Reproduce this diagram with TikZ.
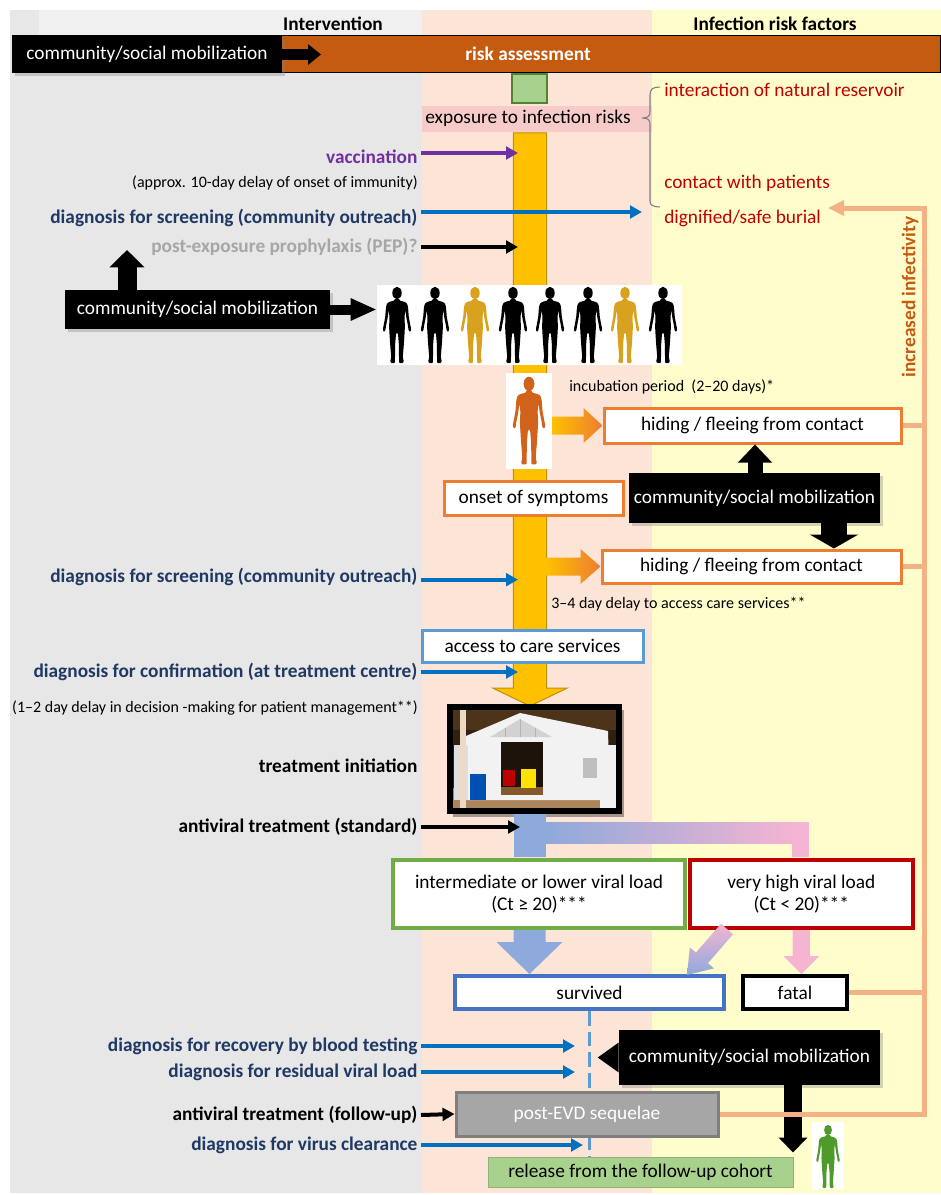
\documentclass[tikz,border=0pt]{standalone}
\usepackage{fontspec}
\setmainfont{Carlito}
\usetikzlibrary{arrows.meta,calc,shadows}
\definecolor{cpanelgray}{HTML}{E7E7E7}
\definecolor{cheadgray}{HTML}{F0F0F0}
\definecolor{cpeach}{HTML}{FCE4D6}
\definecolor{clyellow}{HTML}{FFFDCC}
\definecolor{criskorange}{HTML}{C55A11}
\definecolor{cexpink}{HTML}{F8CBCB}
\definecolor{cgold}{HTML}{FFC000}
\definecolor{cgoldd}{HTML}{BF9000}
\definecolor{clgreen}{HTML}{A9D18E}
\definecolor{cdgreen}{HTML}{548235}
\definecolor{cbgreen}{HTML}{70AD47}
\definecolor{crred}{HTML}{C00000}
\definecolor{coborder}{HTML}{ED7D31}
\definecolor{caborder}{HTML}{5B9BD5}
\definecolor{csblue}{HTML}{4472C4}
\definecolor{ctblue}{HTML}{8EA9DB}
\definecolor{ctpink}{HTML}{F4B4D2}
\definecolor{cinfl}{HTML}{F4B183}
\definecolor{carrblue}{HTML}{0070C0}
\definecolor{cvpurple}{HTML}{7030A0}
\definecolor{cnavy}{HTML}{1F3864}
\definecolor{cpepgray}{HTML}{A6A6A6}
\definecolor{cpgray}{HTML}{A6A6A6}
\definecolor{cpgrayd}{HTML}{7F7F7F}
\definecolor{cfiggold}{HTML}{D9A21E}
\definecolor{cfigorange}{HTML}{D0621B}
\definecolor{cfiggreen}{HTML}{4E9A2A}
\definecolor{cbrace}{HTML}{7F7F7F}
\newcommand\fbig{\fontsize{14.5}{16}\selectfont}
\newcommand\fsm{\fontsize{12}{13.5}\selectfont}
% box from corners (pixel coords)
\newcommand\mybox[7]{%
  \pgfmathsetmacro\mbcx{(#2+#4)/2}%
  \pgfmathsetmacro\mbcy{(#3+#5)/2}%
  \pgfmathsetmacro\mbw{(#4-#2)*0.75}%
  \pgfmathsetmacro\mbh{(#5-#3)*0.75}%
  \node[#6, minimum width=\mbw pt, minimum height=\mbh pt] (#1) at (\mbcx,\mbcy) {#7};}
% block arrow: [style]{A}{B}{shaft half}{head half}{head length}
\newcommand\barrow[6][]{%
  \coordinate (ba) at (#2); \coordinate (bb) at (#3);
  \coordinate (bc) at ($(bb)!#6!(ba)$);
  \path[#1] ($(ba)!#4!90:(bb)$) -- ($(bc)!#4!-90:(ba)$) -- ($(bc)!#5!-90:(ba)$) -- (bb)
     -- ($(bc)!#5!90:(ba)$) -- ($(bc)!#4!90:(ba)$) -- ($(ba)!#4!-90:(bb)$) -- cycle;}
\tikzset{
  pics/person/.style={code={
    \fill (0,6) ellipse [x radius=4.7, y radius=6.2];
    \fill[rounded corners=0.6pt] (2.2,11.5) -- (2.6,13.5) -- (8,15) -- (10,16.5) -- (11,20) -- (11.8,30) -- (13.3,38) -- (14.2,42.5) -- (13.1,45) -- (11.6,43.5) -- (11,39) -- (9.4,31) -- (8.3,23) -- (7.5,30) -- (7.9,40) -- (7.5,47) -- (6.8,58) -- (5.8,70) -- (6.8,74.5) -- (6,76) -- (2.2,76) -- (2,70) -- (1.9,58) -- (1,47) -- (0,45.5)
      -- (-1,47) -- (-1.9,58) -- (-2,70) -- (-2.2,76) -- (-6,76) -- (-6.8,74.5) -- (-5.8,70) -- (-6.8,58) -- (-7.5,47) -- (-7.9,40) -- (-7.5,30) -- (-8.3,23) -- (-9.4,31) -- (-11,39) -- (-11.6,43.5) -- (-13.1,45) -- (-14.2,42.5) -- (-13.3,38) -- (-11.8,30) -- (-11,20) -- (-10,16.5) -- (-8,15) -- (-2.6,13.5) -- (-2.2,11.5) -- cycle;
  }}
}
\begin{document}
\begin{tikzpicture}[x=0.75pt,y=-0.75pt,
  lbl/.style={anchor=east, font=\fbig\bfseries, inner xsep=2.5pt, inner ysep=0pt},
  smalltxt/.style={font=\fsm, inner sep=0pt},
  plaintxt/.style={font=\fbig, inner sep=0pt},
  basebox/.style={rectangle, inner sep=0pt, font=\fbig, align=center},
  obox/.style={basebox, fill=white, draw=coborder, line width=2.25pt},
  blackbox/.style={basebox, fill=black, text=white, drop shadow={shadow xshift=2pt, shadow yshift=-2pt, opacity=0.35}},
  thinarr/.style={line width=3pt, -{Triangle[length=9pt,width=9.5pt]}},
  inflline/.style={cinfl, line width=3.75pt},
]
\useasboundingbox (0,0) rectangle (941,1195);
% ---------- panels ----------
\fill[white] (0,0) rectangle (941,1195);
\fill[cpanelgray] (10,10) rectangle (422,1193);
\fill[cheadgray] (39,10) rectangle (422,36);
\fill[cpeach] (422,10) rectangle (652,1193);
\fill[clyellow] (652,10) rectangle (941,1193);
\node[font=\fbig\bfseries, inner sep=0pt] (hint) at (333,24) {Intervention};
\node[font=\fbig\bfseries, inner sep=0pt] (hrisk) at (775,24) {Infection risk factors};
% ---------- top bar ----------
\mybox{risk}{12}{36}{940}{73}{basebox, fill=criskorange, draw=black, line width=0.75pt}{}
\node[font=\fbig\bfseries, text=white, inner sep=0pt] (riskt) at (528,54) {risk assessment};
\mybox{cma}{12}{36}{282}{73}{blackbox}{community/social mobilization}
\coordinate (cmatip) at (321,54.5);
\draw[line width=8.25pt, -{Triangle[length=9.75pt,width=15pt]}] (cma.east) -- (cmatip);
% ---------- exposure ----------
\mybox{gbox}{512}{74}{547}{103}{basebox, fill=clgreen, draw=cdgreen, line width=1.5pt}{}
\fill[cexpink] (422,106) rectangle (652,132);
\node[plaintxt] (expt) at (528,118) {exposure to infection risks};
\draw[cbrace, line width=0.8pt] (660,87) .. controls (653,87) and (650,89) .. (650,95) -- (650,112)
  .. controls (650,116) and (648,118) .. (642,118) .. controls (648,118) and (650,120) .. (650,124)
  -- (650,201) .. controls (650,205) and (653,207) .. (660,207);
\node[plaintxt, text=crred, anchor=west] (rf1) at (664,90) {interaction of natural reservoir};
\node[plaintxt, text=crred, anchor=west] (rf2) at (664,183) {contact with patients};
\node[plaintxt, text=crred, anchor=west] (rf3) at (664,218) {dignified/safe burial};
% ---------- main yellow arrow ----------
\barrow[fill=cgold, draw=cgoldd, line width=0.75pt]{530,133}{530,706}{12.4pt}{28pt}{13.5pt}
\coordinate (barL) at (518,0);
\coordinate (bx) at (529.5,0);
% ---------- left labels, upper part ----------
\node[lbl, text=cvpurple] (vac) at (421,157) {vaccination};
\node[smalltxt, anchor=east] (imm) at (418,183) {(approx. 10-day delay of onset of immunity)};
\node[lbl, text=cnavy] (scra) at (421,218) {diagnosis for screening (community outreach)};
\node[lbl, text=cpepgray] (pep) at (421,247) {post-exposure prophylaxis (PEP)?};
\coordinate (bracetip) at (642,212);
\draw[thinarr, cvpurple] ([yshift=3pt]vac.east) -- ([yshift=3pt]vac.east -| barL);
\draw[thinarr, carrblue] ([yshift=4.5pt]scra.east) -- (bracetip);
\draw[thinarr, black] (pep.east) -- (pep.east -| barL);
% ---------- community 2 + people ----------
\mybox{cmb}{65}{290}{330}{329}{blackbox}{community/social mobilization}
\coordinate (cmbup) at (127,250);
\draw[line width=14.25pt, -{Triangle[length=13pt,width=25.5pt]}] (cmb.north -| cmbup) -- (cmbup);
\mybox{people}{377}{285}{682}{365}{basebox, fill=white}{}
\draw[line width=7.5pt, -{Triangle[length=19.5pt,width=15.5pt]}] (cmb.east) -- (cmb.east -| people.west);
\foreach \px/\pc in {397/black, 435/black, 475/cfiggold, 513/black, 550/black, 588/black, 625/cfiggold, 663/black}
  \pic[fill=\pc] at (\px,287) {person};
\mybox{operson}{506}{373}{552}{469}{basebox, fill=white}{}
\pic[fill=cfigorange, scale=1.15] at (529,377) {person};
\node[smalltxt, anchor=west] (incub) at (569,387) {incubation period~ (2–20 days)*};
% ---------- hiding / onset ----------
\mybox{hidea}{604}{408}{901}{443}{obox}{hiding / fleeing from contact}
\barrow[left color=cgold, right color=coborder]{operson.east |- hidea.west}{hidea.west}{6.75pt}{13.1pt}{14.25pt}
\mybox{cmc}{629}{473}{880}{523}{blackbox}{community/social mobilization}
\coordinate (cmcu) at (755,0);
\coordinate (cmcd) at (834,0);
\mybox{onset}{444}{481}{623}{515}{obox}{onset of symptoms}
\mybox{hideb}{602}{550}{901}{583}{obox}{hiding / fleeing from contact}
\draw[line width=11.25pt, -{Triangle[length=13.5pt,width=24.75pt]}] (cmcu |- cmc.north) -- (cmcu |- hidea.south);
\draw[line width=19.5pt, -{Triangle[length=10.5pt,width=36pt]}] (cmcd |- cmc.south) -- (cmcd |- hideb.north);
\coordinate (barR) at (546,0);
\barrow[left color=cgold, right color=coborder]{barR |- hideb.west}{hideb.west}{6.75pt}{13.1pt}{15pt}
\node[lbl, text=cnavy] (scrb) at (421,577) {diagnosis for screening (community outreach)};
\draw[thinarr, carrblue] ([yshift=-2pt]scrb.east) -- ([yshift=-2pt]scrb.east -| barL);
\node[smalltxt, anchor=west] (d34) at (551,604) {3–4 day delay to access care services**};
% ---------- access / confirmation ----------
\mybox{access}{422}{630}{643}{662}{basebox, fill=white, draw=caborder, line width=2.25pt}{access to care services}
\node[lbl, text=cnavy] (conf) at (421,672) {diagnosis for confirmation (at treatment centre)};
\draw[thinarr, carrblue] (conf.east) -- (conf.east -| barL);
\node[smalltxt, anchor=east] (d12) at (418,708) {(1–2 day delay in decision -making for patient management**)};
% ---------- tent picture ----------
\fill[black, opacity=0.35] (453,710) rectangle (624,817);
\fill[black!75!brown] (453,710) rectangle (617,808);
\fill[black!60!brown] (453,710) rectangle (617,730);
\fill[brown!80!black!80] (453,788) rectangle (617,808);
\fill[gray!10] (466,736) -- (520,713) -- (608,731) -- (610,800) -- (466,800) -- cycle;
\fill[gray!35] (490,737) -- (520,719) -- (552,737) -- cycle;
\draw[gray!60, line width=0.5pt] (505,728) -- (505,737) (520,719) -- (520,737) (535,728) -- (535,737);
\fill[black!85!brown] (501,742) rectangle (543,795);
\fill[brown!70!black] (501,787) rectangle (543,795);
\fill[red!75!black] (503,770) rectangle (515,786);
\fill[yellow!85!orange] (521,769) rectangle (536,788);
\fill[blue!55!cyan!70!black] (470,774) rectangle (486,800);
\fill[gray!25] (454,745) rectangle (468,800);
\fill[brown!30!white] (460,710) rectangle (466,808);
\fill[gray!50] (583,758) rectangle (597,778);
\fill[gray!12] (600,745) rectangle (617,808);
\mybox{tent}{450}{707}{619}{811}{basebox, draw=black, line width=4.5pt}{}
\node[lbl, text=black] (tinit) at (421,766) {treatment initiation};
% ---------- treatment and outcomes ----------
\mybox{ilow}{393}{860}{685}{928}{basebox, fill=white, draw=cbgreen, line width=3pt}{intermediate or lower viral load\\(Ct ≥ 20)***}
\mybox{vhigh}{689.5}{860}{913}{928}{basebox, fill=white, draw=crred, line width=3pt}{very high viral load\\(Ct < 20)***}
\fill[ctblue] ($(bx |- tent.south)+(-16,0)$) rectangle ($(bx |- ilow.north)+(16,-1.5)$);
\shade[left color=ctblue, right color=ctpink] (545.5,822) rectangle (792,843);
\fill[ctpink] (792,822) rectangle ($(vhigh.north)+(8,-1.5)$);
\node[lbl, text=black] (std) at (421,827) {antiviral treatment (standard)};
\draw[thinarr, black] (std.east) -- ([xshift=1.5pt]std.east -| barL);
\mybox{surv}{455}{976}{724}{1009}{basebox, fill=white, draw=csblue, line width=3pt}{survived}
\mybox{fatal}{743}{976}{847}{1009}{basebox, fill=white, draw=black, line width=3pt}{fatal}
\barrow[fill=ctblue]{bx |- ilow.south}{bx |- surv.north}{12pt}{24.75pt}{24pt}
\barrow[fill=ctpink]{vhigh.south}{vhigh.south |- fatal.north}{6.4pt}{13.5pt}{13.5pt}
\coordinate (dgs) at (727,929);
\coordinate (dgt) at (687,975);
\barrow[top color=ctpink, bottom color=ctblue]{dgs}{dgt}{6pt}{12pt}{17pt}
% ---------- follow-up ----------
\mybox{rel}{488}{1157}{793}{1187}{basebox, fill=clgreen, draw=clgreen!85!black, line width=0.75pt}{release from the follow-up cohort}
\draw[caborder, line width=2.6pt, dash pattern=on 11pt off 4.5pt] (surv.south) -- (surv.south |- rel.north);
\mybox{post}{456}{1092}{718}{1136}{basebox, fill=cpgray, draw=cpgrayd, line width=2.25pt, text=white}{post-EVD sequelae}
\mybox{cmd}{619}{1030}{880}{1085}{blackbox}{community/social mobilization}
\fill ($(cmd.west)+(0,-15)$) -- ($(cmd.west)+(-21,0)$) -- ($(cmd.west)+(0,15)$) -- cycle;
\coordinate (cmdd) at (793,0);
\draw[line width=13.5pt, -{Triangle[length=11.25pt,width=21pt]}, shorten >=3pt] (cmdd |- cmd.south) -- (cmdd |- rel.north);
\coordinate (dla) at (575,0);
\coordinate (dlb) at (583,0);
\node[lbl, text=cnavy] (rec) at (421,1046) {diagnosis for recovery by blood testing};
\node[lbl, text=cnavy] (resid) at (421,1072) {diagnosis for residual viral load};
\node[lbl, text=black] (fup) at (421,1115) {antiviral treatment (follow-up)};
\node[lbl, text=cnavy] (clr) at (421,1145) {diagnosis for virus clearance};
\draw[thinarr, carrblue] (rec.east) -- (rec.east -| dla);
\draw[thinarr, carrblue] (resid.east) -- (resid.east -| dla);
\draw[thinarr, black] (fup.east) -- (post.west);
\draw[thinarr, carrblue] (clr.east) -- (clr.east -| dlb);
\mybox{gperson}{812}{1122}{844}{1189}{basebox, fill=white}{}
\pic[fill=cfiggreen, scale=0.83] at (828,1125) {person};
% ---------- increased infectivity ----------
\coordinate (vx) at (924,0);
\coordinate (inftip) at (828,208);
\draw[inflline] (hidea.east) -- (hidea.east -| vx);
\draw[inflline] (hideb.east) -- (hideb.east -| vx);
\draw[inflline] (fatal.east) -- (fatal.east -| vx);
\draw[inflline, -{Triangle[length=12pt,width=11pt]}] (post.east) -- (post.east -| vx) -- (vx |- inftip) -- (inftip);
\node[rotate=90, font=\fbig\bfseries, text=criskorange, inner sep=0pt] (inft) at (910,297) {increased infectivity};
\end{tikzpicture}
\end{document}
